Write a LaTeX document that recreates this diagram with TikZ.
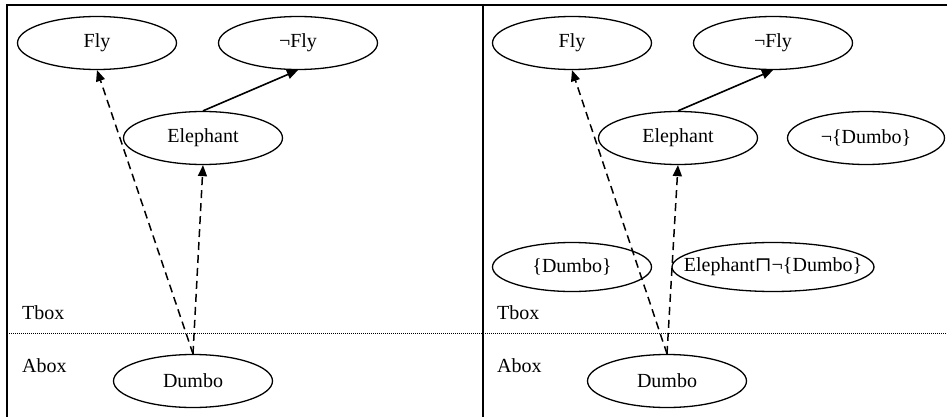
\documentclass[tikz,border=0pt]{standalone}
\usepackage{fontspec}
\setmainfont{Liberation Serif}
\newfontfamily\symfont{DejaVu Serif}
\usetikzlibrary{shapes.geometric,arrows.meta}
\tikzset{
  concept/.style={draw, ellipse, line width=1.3pt, inner sep=0pt,
    minimum width=159pt, minimum height=53pt,
    font=\fontsize{20}{24}\selectfont},
  boxlabel/.style={anchor=west, inner sep=0pt, font=\fontsize{20}{24}\selectfont},
  frameline/.style={line width=1.8pt},
  sepline/.style={line width=0.8pt, dash pattern=on 1pt off 1pt},
  inst/.style={line width=1.5pt, dash pattern=on 8pt off 5pt,
    -{Triangle[length=11pt,width=9pt]}},
  sub/.style={line width=1.6pt, -{Triangle[length=11pt,width=9pt]}}
}
\begin{document}
\begin{tikzpicture}[x=1pt,y=-1pt]
\useasboundingbox (0,0) rectangle (948,417);
% table frame
\draw[frameline] (7,417) -- (7,5) -- (947,5);
\draw[frameline] (483,5) -- (483,417);
\draw[sepline] (7,333) -- (947,333);

% left panel
\node[concept] (fl) at (97,43) {Fly};
\node[concept] (nfl) at (298,43) {¬Fly};
\node[concept] (el) at (203,138) {Elephant};
\node[concept] (dl) at (193,381) {Dumbo};
\node[boxlabel] (tl) at (22,313) {Tbox};
\node[boxlabel] (al) at (22,366) {Abox};
\draw[sub] (el.north) -- (nfl.south);
\draw[inst] (dl.north) -- (fl.south);
\draw[inst] (dl.north) -- (el.south);

% right panel
\node[concept] (fr) at (572,43) {Fly};
\node[concept] (nfr) at (773,43) {¬Fly};
\node[concept] (er) at (678,138) {Elephant};
\node[concept, minimum width=157pt] (nd) at (866,138) {¬\{Dumbo\}};
\node[concept, minimum height=49pt] (sd) at (572,267) {\{Dumbo\}};
\node[concept, minimum width=202pt, minimum height=49pt] (ed) at (773,267)
  {\makebox[0pt]{Elephant{\symfont ⊓}¬\{Dumbo\}}};
\node[concept] (dr) at (667,381) {Dumbo};
\node[boxlabel] (tr) at (497,313) {Tbox};
\node[boxlabel] (ar) at (497,366) {Abox};
\draw[sub] (er.north) -- (nfr.south);
\draw[inst] (dr.north) -- (fr.south);
\draw[inst] (dr.north) -- (er.south);
\end{tikzpicture}
\end{document}
